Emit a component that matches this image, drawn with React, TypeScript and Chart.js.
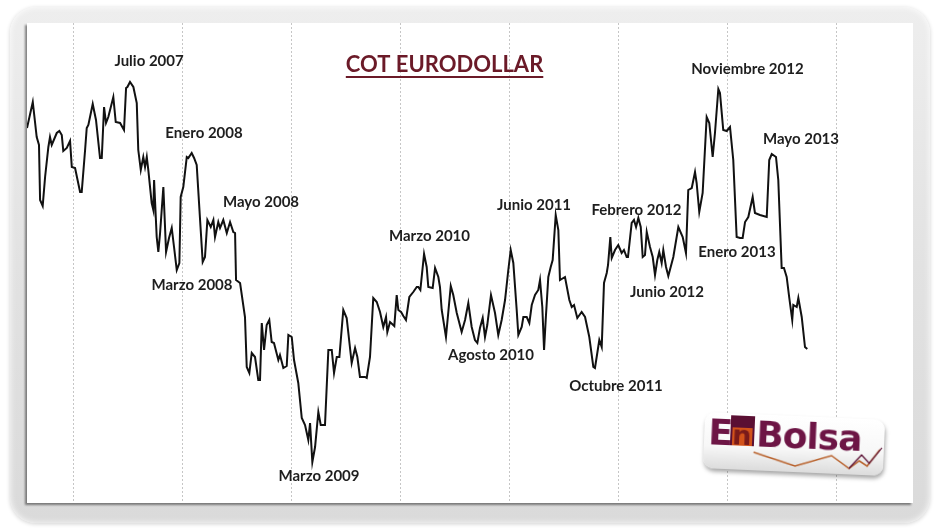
import React, { useEffect, useRef } from "react";
import { Chart, registerables } from "chart.js";

Chart.register(...registerables);

// Weekly COT Eurodollar net positioning (relative index), dates as decimal years
const cotDates = [
  2006.573, 2006.626, 2006.662, 2006.683, 2006.693, 2006.717, 2006.739, 2006.769, 2006.784, 2006.800,
  2006.846, 2006.870, 2006.892, 2006.906, 2006.938, 2006.968, 2006.984, 2007.014, 2007.060, 2007.075,
  2007.106, 2007.121, 2007.136, 2007.176, 2007.206, 2007.243, 2007.259, 2007.280, 2007.298, 2007.319,
  2007.365, 2007.387, 2007.427, 2007.463, 2007.482, 2007.494, 2007.518, 2007.549, 2007.580, 2007.594,
  2007.617, 2007.640, 2007.656, 2007.672, 2007.686, 2007.717, 2007.732, 2007.739, 2007.763, 2007.778,
  2007.794, 2007.824, 2007.849, 2007.876, 2007.901, 2007.922, 2007.947, 2007.971, 2007.983, 2008.007,
  2008.039, 2008.053, 2008.084, 2008.106, 2008.130, 2008.161, 2008.185, 2008.206, 2008.228, 2008.259,
  2008.283, 2008.298, 2008.328, 2008.344, 2008.374, 2008.406, 2008.436, 2008.466, 2008.482, 2008.491,
  2008.528, 2008.573, 2008.589, 2008.613, 2008.635, 2008.665, 2008.695, 2008.711, 2008.727, 2008.748,
  2008.772, 2008.796, 2008.818, 2008.839, 2008.879, 2008.894, 2008.925, 2008.956, 2008.971, 2009.002,
  2009.023, 2009.062, 2009.094, 2009.124, 2009.154, 2009.170, 2009.191, 2009.216, 2009.246, 2009.268,
  2009.307, 2009.338, 2009.369, 2009.390, 2009.415, 2009.439, 2009.475, 2009.506, 2009.552, 2009.583,
  2009.604, 2009.628, 2009.674, 2009.690, 2009.720, 2009.750, 2009.782, 2009.812, 2009.842, 2009.867,
  2009.879, 2009.904, 2009.943, 2009.965, 2009.980, 2010.005, 2010.026, 2010.050, 2010.081, 2010.117,
  2010.149, 2010.163, 2010.182, 2010.216, 2010.240, 2010.255, 2010.295, 2010.317, 2010.347, 2010.362,
  2010.378, 2010.417, 2010.461, 2010.484, 2010.516, 2010.561, 2010.592, 2010.622, 2010.653, 2010.683,
  2010.705, 2010.729, 2010.754, 2010.775, 2010.796, 2010.830, 2010.867, 2010.897, 2010.928, 2010.959,
  2010.989, 2011.011, 2011.035, 2011.066, 2011.081, 2011.112, 2011.127, 2011.158, 2011.182, 2011.204,
  2011.234, 2011.264, 2011.280, 2011.301, 2011.317, 2011.332, 2011.356, 2011.378, 2011.396, 2011.424,
  2011.448, 2011.463, 2011.509, 2011.549, 2011.571, 2011.592, 2011.622, 2011.662, 2011.693, 2011.732,
  2011.769, 2011.784, 2011.824, 2011.846, 2011.867, 2011.892, 2011.904, 2011.925, 2011.938, 2011.968,
  2011.998, 2012.029, 2012.050, 2012.075, 2012.087, 2012.121, 2012.142, 2012.161, 2012.182, 2012.204,
  2012.222, 2012.243, 2012.259, 2012.289, 2012.314, 2012.335, 2012.356, 2012.374, 2012.396, 2012.411,
  2012.436, 2012.457, 2012.503, 2012.549, 2012.589, 2012.619, 2012.640, 2012.672, 2012.702, 2012.717,
  2012.741, 2012.772, 2012.809, 2012.833, 2012.864, 2012.885, 2012.916, 2012.931, 2012.961, 2012.993,
  2013.023, 2013.053, 2013.084, 2013.115, 2013.139, 2013.161, 2013.191, 2013.231, 2013.252, 2013.298,
  2013.360, 2013.383, 2013.406, 2013.445, 2013.466, 2013.497, 2013.518, 2013.543, 2013.567, 2013.594,
  2013.604, 2013.635, 2013.650, 2013.681, 2013.711, 2013.732,
];

const cotNet = [
  375, 401, 366, 358, 303, 297, 326, 356, 366, 358,
  370, 372, 368, 352, 355, 362, 336, 335, 311, 311,
  353, 375, 378, 399, 383, 345, 345, 396, 380, 386,
  406, 381, 380, 373, 415, 416, 421, 416, 400, 353,
  333, 346, 336, 346, 333, 300, 293, 323, 266, 251,
  270, 316, 251, 265, 275, 256, 233, 240, 306, 316,
  346, 345, 350, 345, 338, 283, 241, 246, 283, 276,
  283, 266, 281, 275, 283, 270, 281, 271, 270, 223,
  220, 186, 136, 130, 150, 146, 123, 123, 180, 153,
  178, 183, 161, 160, 143, 148, 135, 137, 168, 166,
  143, 120, 85, 78, 63, 80, 41, 56, 91, 78,
  78, 153, 153, 130, 146, 146, 193, 185, 140, 155,
  146, 126, 126, 125, 146, 205, 201, 191, 176, 186,
  171, 181, 177, 208, 193, 191, 187, 183, 206, 211,
  216, 216, 213, 249, 236, 216, 215, 235, 226, 216,
  193, 166, 217, 208, 190, 171, 183, 200, 176, 163,
  160, 175, 185, 166, 178, 208, 190, 168, 183, 203,
  233, 253, 240, 193, 168, 176, 186, 186, 180, 198,
  208, 213, 223, 196, 153, 183, 226, 236, 243, 288,
  273, 223, 226, 203, 196, 198, 185, 191, 186, 166,
  136, 135, 163, 156, 220, 230, 238, 266, 245, 253,
  258, 250, 253, 246, 246, 280, 283, 276, 285, 276,
  246, 248, 271, 256, 246, 228, 243, 251, 240, 253,
  236, 227, 246, 276, 266, 250, 313, 315, 331, 320,
  291, 310, 386, 380, 346, 370, 414, 410, 373, 372,
  376, 343, 266, 265, 265, 281, 286, 306, 290, 288,
  286, 343, 349, 346, 323, 235, 235, 226, 205, 183,
  198, 196, 205, 186, 156, 154,
];

const yearTicks = [2007, 2008, 2009, 2010, 2011, 2012, 2013, 2014];

const noteLabels = [
  "Julio 2007", "Enero 2008", "Mayo 2008", "Marzo 2008", "Marzo 2009",
  "Marzo 2010", "Agosto 2010", "Junio 2011", "Octubre 2011", "Febrero 2012",
  "Junio 2012", "Noviembre 2012", "Enero 2013", "Mayo 2013",
];
const noteDates = [
  2007.693, 2008.197, 2008.720, 2008.087, 2009.252,
  2010.266, 2010.830, 2011.225, 2011.977, 2012.165,
  2012.445, 2013.183, 2013.087, 2013.674,
];
const noteValues = [
  442, 370, 301, 218, 27,
  267, 148, 298, 117, 293,
  211, 434, 251, 364,
];

const chartTitle = "COT EURODOLLAR";
const titleDate = 2010.404;
const titleValue = 438;

const xMin = 2006.573;
const xMax = 2014.702;

export default function App() {
  const canvasRef = useRef<HTMLCanvasElement | null>(null);

  useEffect(() => {
    const notesPlugin = {
      id: "notes",
      afterDatasetsDraw(chart: any) {
        const { ctx, scales } = chart;
        ctx.save();
        ctx.textAlign = "center";
        ctx.textBaseline = "middle";
        ctx.font = "bold 15px Lato";
        ctx.fillStyle = "#1e1e1e";
        noteLabels.forEach((t, i) => {
          ctx.fillText(t, scales.x.getPixelForValue(noteDates[i]), scales.y.getPixelForValue(noteValues[i]));
        });
        ctx.font = "bold 22px Lato";
        ctx.fillStyle = "#6b1a28";
        const tx = scales.x.getPixelForValue(titleDate);
        const ty = scales.y.getPixelForValue(titleValue);
        ctx.fillText(chartTitle, tx, ty);
        const w = ctx.measureText(chartTitle).width;
        ctx.fillRect(tx - w / 2, ty + 11, w, 2);
        ctx.restore();
      },
    };

    const chart = new Chart(canvasRef.current as HTMLCanvasElement, {
      type: "line",
      data: {
        datasets: [
          {
            data: cotDates.map((d, i) => ({ x: d, y: cotNet[i] })),
            borderColor: "#111111",
            borderWidth: 2,
            pointRadius: 0,
            tension: 0,
            fill: false,
          },
        ],
      },
      options: {
        animation: false,
        responsive: false,
        layout: { padding: 0 },
        plugins: {
          legend: { display: false },
          tooltip: { enabled: false },
          title: { display: false },
        },
        scales: {
          x: {
            type: "linear",
            min: xMin,
            max: xMax,
            afterBuildTicks: (scale: any) => {
              scale.ticks = yearTicks.map((v) => ({ value: v }));
            },
            ticks: { display: false },
            grid: { color: "#c6c6c6", lineWidth: 1, drawTicks: false, tickLength: 0 },
            border: { display: false, dash: [2, 2] },
          },
          y: { display: false, min: 0, max: 480 },
        },
      },
      plugins: [notesPlugin],
    } as any);

    return () => chart.destroy();
  }, []);

  return (
    <div style={{ position: "fixed", left: 0, top: 0, width: 939, height: 531, background: "#ffffff", overflow: "hidden" }}>
      <div
        style={{
          position: "absolute",
          left: 10,
          top: 7,
          width: 920,
          height: 516,
          borderRadius: 26,
          background: "linear-gradient(180deg, #eeeeee 0%, #e2e2e2 50%, #dadada 100%)",
          boxShadow: "0 1px 4px rgba(0,0,0,0.18), inset 0 0 6px rgba(255,255,255,0.9)",
        }}
      />
      <div
        style={{
          position: "absolute",
          left: 27,
          top: 23,
          width: 886,
          height: 480,
          background: "#ffffff",
          boxShadow: "-2px 2px 2px rgba(0,0,0,0.45)",
        }}
      >
        <canvas ref={canvasRef} width={886} height={480} style={{ display: "block" }} />
      </div>
      <div
        style={{
          position: "absolute",
          left: 704,
          top: 416,
          width: 180,
          height: 56,
          borderRadius: 10,
          transform: "rotate(2.5deg)",
          background: "linear-gradient(180deg, #ffffff 0%, #f7f7f7 60%, #dcdcdc 100%)",
          boxShadow: "1px 3px 4px rgba(0,0,0,0.35)",
          fontFamily: "'DejaVu Sans', sans-serif",
          fontWeight: "bold",
        }}
      >
        <svg width={180} height={56} style={{ position: "absolute", left: 0, top: 0 }}>
          <rect x={26} y={2} width={24} height={30} fill="#5a0f33" />
          <rect x={28} y={14} width={20} height={18} fill="#d2521a" />
          <polyline points="50,38 92,50 128,38 146,50 156,42 164,47 176,30" fill="none" stroke="#b8602a" strokeWidth={1.5} />
          <polyline points="146,50 158,36 166,44 178,28" fill="none" stroke="#5a0f33" strokeWidth={1.2} />
        </svg>
        <span style={{ position: "absolute", left: 4, top: 0, fontSize: 36, lineHeight: "40px", color: "#6d1545", letterSpacing: -1 }}>E</span>
        <span style={{ position: "absolute", left: 28, top: 7, fontSize: 27, lineHeight: "30px", color: "#7a1a1a" }}>n</span>
        <span style={{ position: "absolute", left: 52, top: 0, fontSize: 36, lineHeight: "40px", color: "#6d1545", letterSpacing: -1 }}>Bolsa</span>
      </div>
    </div>
  );
}
